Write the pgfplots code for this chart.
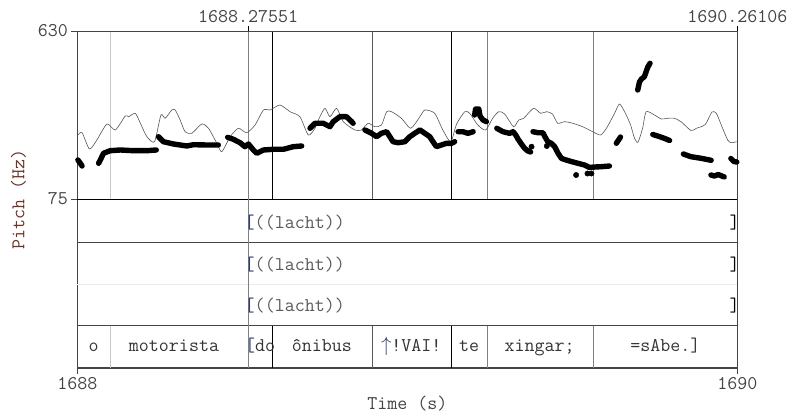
\documentclass[border=0pt]{standalone}
\usepackage{fontspec}
\usepackage{pgfplots}
\pgfplotsset{compat=1.18}
\definecolor{txt}{HTML}{444444}
\definecolor{lab}{HTML}{6A3428}
\definecolor{brk}{HTML}{2E3F6E}
\definecolor{curve}{HTML}{555555}
\newcommand{\pf}{\fontsize{19.5}{21}\selectfont\ttfamily}
\begin{document}
\begin{tikzpicture}
\useasboundingbox (0,0) rectangle (790bp,415bp);
\begin{axis}[
  at={(77.3bp,47bp)}, anchor=south west,
  scale only axis, width=660bp, height=337bp,
  xmin=1687.5826, xmax=1690.26106,
  ymin=-483.3, ymax=630,
  axis line style={draw=txt, line width=0.8bp},
  tick align=outside, major tick length=6bp,
  tick style={draw=txt, line width=0.8bp},
  tick pos=left,
  xtick={1687.5826,1690.26106}, xticklabels={1688,1690},
  ytick={75,630}, yticklabels={75,630},
  tick label style={font=\pf, text=txt},
  xlabel={Time (s)}, ylabel={Pitch (Hz)},
  xlabel style={font=\pf, text=txt, at={(axis description cs:0.5,-0.107)}, anchor=center},
  ylabel style={font=\pf, text=lab, at={(axis description cs:-0.0891,0.5)}, anchor=center},
  unbounded coords=jump, clip=false,
]
% tier separators
\draw[black, line width=0.8bp] (axis cs:1687.5826,75) -- (axis cs:1690.26106,75);
\draw[txt, line width=0.8bp] (axis cs:1687.5826,-67.05) -- (axis cs:1690.26106,-67.05);
\draw[black!8, line width=0.8bp] (axis cs:1687.5826,-205.8) -- (axis cs:1690.26106,-205.8);
\draw[txt, line width=0.8bp] (axis cs:1687.5826,-342.9) -- (axis cs:1690.26106,-342.9);
\draw[txt, line width=1.8bp] (axis cs:1687.5826,-483.3) -- (axis cs:1690.26106,-483.3);
% boundaries
\draw[black!22, line width=0.9bp] (axis cs:1687.716,75) -- (axis cs:1687.716,630) (axis cs:1687.716,-342.9) -- (axis cs:1687.716,-483.3);
\draw[black!50, line width=0.8bp] (axis cs:1688.27551,-483.3) -- (axis cs:1688.27551,630);
\draw[black, line width=0.8bp] (axis cs:1688.374,75) -- (axis cs:1688.374,630) (axis cs:1688.374,-342.9) -- (axis cs:1688.374,-483.3);
\draw[black!65, line width=0.8bp] (axis cs:1688.781,75) -- (axis cs:1688.781,630) (axis cs:1688.781,-342.9) -- (axis cs:1688.781,-483.3);
\draw[black, line width=0.8bp] (axis cs:1689.099,75) -- (axis cs:1689.099,630) (axis cs:1689.099,-342.9) -- (axis cs:1689.099,-483.3);
\draw[black!50, line width=0.8bp] (axis cs:1689.247,75) -- (axis cs:1689.247,630) (axis cs:1689.247,-342.9) -- (axis cs:1689.247,-483.3);
\draw[black!50, line width=0.8bp] (axis cs:1689.679,75) -- (axis cs:1689.679,630) (axis cs:1689.679,-342.9) -- (axis cs:1689.679,-483.3);
% thin curve
\addplot[curve, line width=0.6bp, smooth, tension=0.4] coordinates {
(1687.585,286.4)(1687.602,294.0)(1687.632,240.2)(1687.662,269.9)(1687.703,322.8)(1687.737,303.0)(1687.777,349.2)(1687.791,346.9)(1687.818,358.1)(1687.838,326.1)(1687.865,280.8)(1687.896,264.3)(1687.922,352.5)(1687.939,341.6)(1687.966,369.0)(1687.980,369.0)(1688.000,336.0)(1688.020,297.3)(1688.047,292.0)(1688.088,322.8)(1688.115,308.6)(1688.149,259.0)(1688.169,231.3)(1688.203,280.8)(1688.236,308.6)(1688.270,294.0)(1688.304,319.5)(1688.338,369.0)(1688.365,369.0)(1688.405,385.5)(1688.446,363.4)(1688.486,346.9)(1688.520,286.4)(1688.547,308.6)(1688.567,346.9)(1688.588,374.6)(1688.608,346.9)(1688.635,374.6)(1688.662,330.4)(1688.709,303.0)(1688.736,303.0)(1688.763,325.1)(1688.790,313.9)(1688.817,319.5)(1688.838,363.4)(1688.858,363.4)(1688.898,341.6)(1688.936,308.6)(1688.973,346.9)(1688.993,369.0)(1689.033,358.1)(1689.066,303.0)(1689.098,264.3)(1689.122,322.8)(1689.155,363.4)(1689.175,358.1)(1689.208,319.5)(1689.240,303.0)(1689.268,341.6)(1689.293,363.4)(1689.317,355.8)(1689.353,313.9)(1689.374,336.0)(1689.394,341.6)(1689.434,374.6)(1689.463,358.1)(1689.487,363.4)(1689.511,355.8)(1689.532,325.1)(1689.560,330.4)(1689.593,325.1)(1689.633,313.9)(1689.674,297.3)(1689.706,286.4)(1689.730,308.6)(1689.763,358.1)(1689.783,388.8)(1689.807,358.1)(1689.828,319.5)(1689.844,275.5)(1689.858,262.6)(1689.877,309.6)(1689.891,363.4)(1689.925,352.5)(1689.953,339.3)(1689.977,341.6)(1690.006,341.6)(1690.034,329.4)(1690.073,301.3)(1690.095,308.6)(1690.131,321.1)(1690.158,362.4)(1690.176,358.1)(1690.196,319.5)(1690.222,269.9)(1690.237,261.0)(1690.258,264.3)
};
% pitch dots (continuous runs)
\addplot[black, line width=5.4bp, line cap=round, line join=round] coordinates {
(1687.585,203.8)(1687.595,193.0)(1687.602,184.0)
(1687.63,nan)
(1687.669,193.0)(1687.676,203.8)(1687.689,226.0)(1687.716,234.6)(1687.757,236.9)(1687.811,234.6)(1687.865,234.6)(1687.903,236.9)
(1687.908,nan)
(1687.912,280.8)(1687.932,264.3)(1687.973,256.7)(1688.027,250.1)(1688.054,254.4)(1688.108,253.4)(1688.155,253.4)
(1688.17,nan)
(1688.193,278.8)(1688.216,272.2)(1688.243,261.0)(1688.263,247.8)(1688.277,256.7)(1688.297,236.9)(1688.311,226.0)(1688.338,236.9)(1688.378,239.2)(1688.419,239.2)(1688.459,247.8)(1688.493,250.1)
(1688.51,nan)
(1688.527,308.6)(1688.547,325.1)(1688.581,325.1)(1688.608,313.9)(1688.621,330.4)(1688.648,346.9)(1688.675,346.9)(1688.696,330.4)(1688.702,325.1)
(1688.72,nan)
(1688.750,303.0)(1688.777,292.0)(1688.797,280.8)(1688.817,292.0)(1688.838,297.3)(1688.851,280.8)(1688.864,264.3)(1688.885,261.0)(1688.912,264.3)(1688.932,280.8)(1688.952,292.0)(1688.973,303.0)(1688.993,292.0)(1689.013,280.8)(1689.026,264.3)(1689.040,247.8)(1689.060,253.4)(1689.081,259.0)(1689.101,259.0)(1689.114,264.3)
(1689.12,nan)
(1689.128,297.3)(1689.148,297.3)(1689.168,292.0)(1689.189,297.3)
(1689.192,nan)
(1689.195,352.5)(1689.199,372.3)(1689.212,372.3)(1689.217,349.2)(1689.229,336.0)(1689.243,330.4)
(1689.26,nan)
(1689.285,308.6)(1689.310,297.3)(1689.337,292.0)(1689.351,297.3)(1689.362,286.4)(1689.371,273.2)(1689.385,256.7)(1689.398,242.5)(1689.411,233.6)(1689.422,230.3)
(1689.427,nan)
(1689.432,297.3)(1689.452,294.0)(1689.472,294.0)(1689.481,279.8)(1689.492,264.3)(1689.506,259.0)(1689.520,247.8)(1689.533,227.0)(1689.547,209.5)(1689.560,205.5)(1689.587,198.9)(1689.614,193.0)(1689.641,187.3)(1689.661,179.1)(1689.682,180.7)(1689.709,181.7)(1689.742,184.0)
(1689.75,nan)
(1689.770,259.0)(1689.779,269.9)(1689.787,279.8)
(1689.82,nan)
(1689.857,435.1)(1689.864,461.5)(1689.872,471.4)(1689.884,479.0)(1689.892,497.9)(1689.898,511.1)(1689.907,523.3)
(1689.912,nan)
(1689.918,288.1)(1689.938,283.1)(1689.965,275.5)(1689.986,268.3)
(1690.01,nan)
(1690.042,223.7)(1690.073,214.7)(1690.114,209.5)(1690.155,202.8)
(1690.156,nan)
(1690.154,154.3)(1690.168,151.0)(1690.184,155.9)(1690.208,147.7)
(1690.22,nan)
(1690.235,208.8)(1690.247,198.9)(1690.259,197.2)
};
% isolated pitch dots
\addplot[only marks, mark=*, mark size=2.7bp, black] coordinates {
(1689.426,247.8)(1689.488,250.1)(1689.607,154.3)(1689.653,159.2)(1689.669,159.2)
};
% tier texts
\node[anchor=base west, inner sep=0pt, font=\pf, text=black!65] at (axis cs:1688.2613,-20.8) {{\color{brk}[}((lacht))};
\node[anchor=base east, inner sep=0pt, xshift=2.5bp, font=\pf, text=black] at (axis cs:1690.26106,-20.8) {]};
\node[anchor=base west, inner sep=0pt, font=\pf, text=black!65] at (axis cs:1688.2613,-159.6) {{\color{brk}[}((lacht))};
\node[anchor=base east, inner sep=0pt, xshift=2.5bp, font=\pf, text=black] at (axis cs:1690.26106,-159.6) {]};
\node[anchor=base west, inner sep=0pt, font=\pf, text=black!65] at (axis cs:1688.2613,-297.3) {{\color{brk}[}((lacht))};
\node[anchor=base east, inner sep=0pt, xshift=2.5bp, font=\pf, text=black] at (axis cs:1690.26106,-297.3) {]};
\node[anchor=base, inner sep=0pt, font=\pf, text=black!80] at (axis cs:1687.649,-429.5) {o};
\node[anchor=base, inner sep=0pt, font=\pf, text=black!80] at (axis cs:1687.975,-429.5) {motorista};
\node[anchor=base west, inner sep=0pt, font=\pf, text=black!80] at (axis cs:1688.263,-429.5) {{\color{brk}[}do};
\node[anchor=base, inner sep=0pt, font=\pf, text=black!80] at (axis cs:1688.575,-429.5) {ônibus};
\node[anchor=base, inner sep=0pt, font=\pf, text=black!80] at (axis cs:1688.938,-429.5) {{\color{brk}$\uparrow$}!VAI!};
\node[anchor=base, inner sep=0pt, font=\pf, text=black!80] at (axis cs:1689.173,-429.5) {te};
\node[anchor=base, inner sep=0pt, font=\pf, text=black!80] at (axis cs:1689.459,-429.5) {xingar;};
\node[anchor=base, inner sep=0pt, font=\pf, text=black!80] at (axis cs:1689.969,-429.5) {=sAbe.]};
\end{axis}
\begin{axis}[
  at={(77.3bp,47bp)}, anchor=south west,
  scale only axis, width=660bp, height=337bp,
  xmin=1687.5826, xmax=1690.26106,
  ymin=-483.3, ymax=630,
  hide y axis, axis x line*=top,
  axis line style={draw=txt, line width=0.8bp},
  tick align=outside, major tick length=5bp,
  tick style={draw=black, line width=0.9bp},
  xtick={1688.27551,1690.26106}, xticklabels={1688.27551,1690.26106},
  tick label style={font=\pf, text=txt},
]
\end{axis}
\end{tikzpicture}
\end{document}
